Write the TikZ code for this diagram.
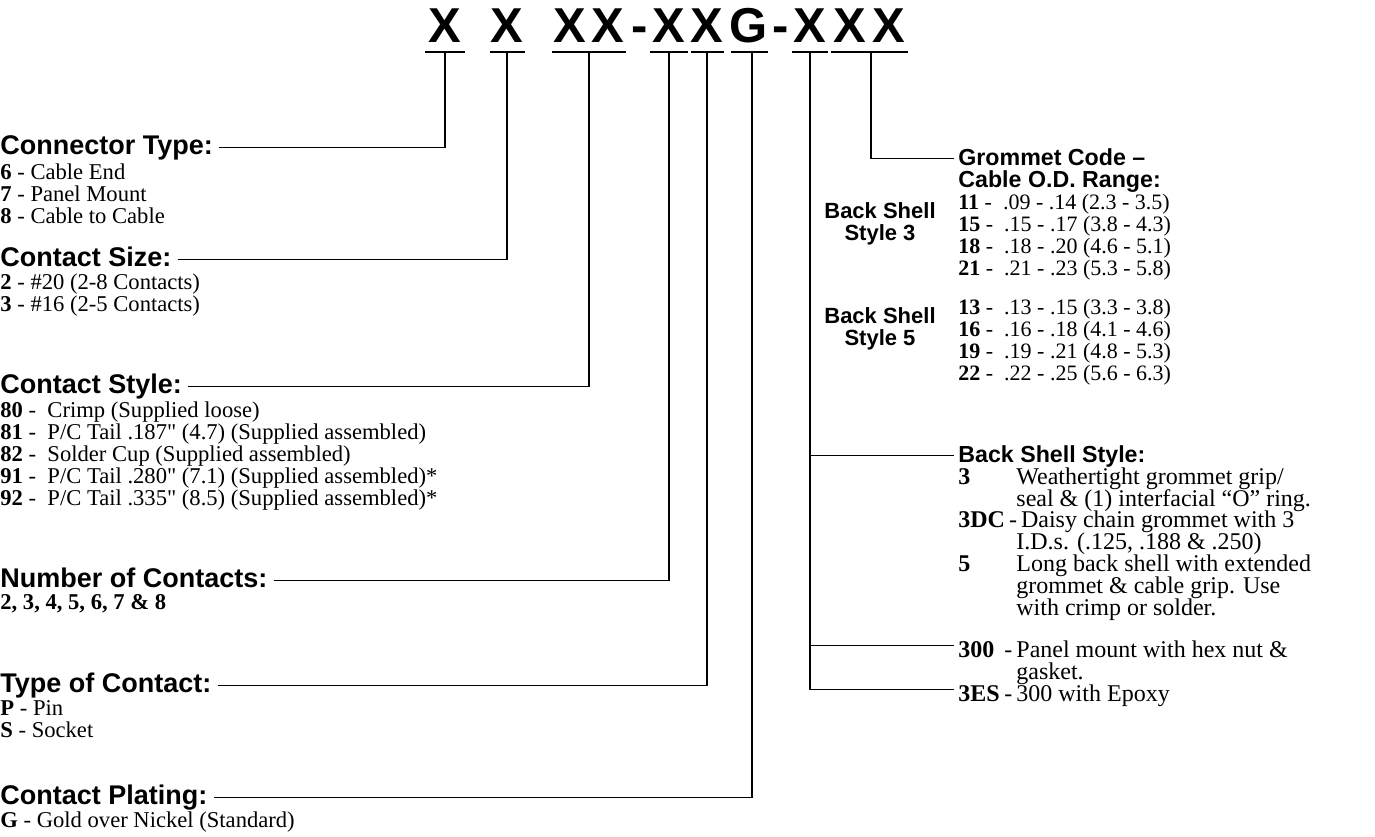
\documentclass[tikz,border=0pt]{standalone}
\usepackage{fontspec}
\setmainfont{Liberation Serif}
\setsansfont{Liberation Sans}
\usetikzlibrary{positioning}

\tikzset{
  codeletter/.style={font=\fontsize{24.5}{25}\selectfont\sffamily\bfseries, inner sep=0pt, anchor=base},
  heading/.style={font=\fontsize{13.5}{14}\selectfont\sffamily\bfseries, inner sep=0pt, anchor=base west, text height=9pt, text depth=2.5pt},
  rheading/.style={heading, font=\fontsize{11.6}{12}\selectfont\sffamily\bfseries},
  bslabel/.style={font=\fontsize{11}{11}\selectfont\sffamily\bfseries, inner sep=0pt, align=center},
  entry/.style={font=\fontsize{11.3}{11}\selectfont, inner sep=0pt, anchor=base west},
  gentry/.style={entry, font=\fontsize{11}{11}\selectfont},
  bentry/.style={entry, font=\fontsize{12}{11}\selectfont},
  leader/.style={line width=0.65pt},
  underline/.style={line width=1pt},
}

\begin{document}
\begin{tikzpicture}[x=0.5pt,y=-0.5pt]
    \useasboundingbox (0,0) rectangle (1375,836);

    % Part number
    \node[codeletter] (p1) at (445,42) {X};
    \node[codeletter] (p2) at (507,42) {X};
    \node[codeletter] (p3) at (570,42) {X};
    \node[codeletter] (p4) at (608,42) {X};
    \node[codeletter] (dash1) at (640,42) {-};
    \node[codeletter] (p5) at (669,42) {X};
    \node[codeletter] (p6) at (707,42) {X};
    \node[codeletter] (p7) at (749,42) {G};
    \node[codeletter] (dash2) at (781,42) {-};
    \node[codeletter] (p8) at (810,42) {X};
    \node[codeletter] (p9) at (850,42) {X};
    \node[codeletter] (p10) at (889,42) {X};

    % Underlines
    \draw[underline] (425,52) -- (465,52);
    \draw[underline] (490,52) -- (525,52);
    \draw[underline] (552,52) -- (626,52);
    \draw[underline] (650,52) -- (688,52);
    \draw[underline] (691,52) -- (724,52);
    \draw[underline] (731,52) -- (768,52);
    \draw[underline] (792,52) -- (828,52);
    \draw[underline] (831,52) -- (908,52);

    % Tap points
    \coordinate (tType) at (445,52);
    \coordinate (tSize) at (507,52);
    \coordinate (tStyle) at (589,52);
    \coordinate (tNum) at (669,52);
    \coordinate (tKind) at (707,52);
    \coordinate (tPlate) at (752,52);
    \coordinate (tShell) at (810,52);
    \coordinate (tGrom) at (871,52);

    % Connector type
    \node[heading] (hType) at (0,154) {Connector Type:};
    \node[entry] (type6) at (0,179) {\textbf{6} - Cable End};
    \node[entry] (type7) at (0,201) {\textbf{7} - Panel Mount};
    \node[entry] (type8) at (0,223) {\textbf{8} - Cable to Cable};

    % Contact size
    \node[heading] (hSize) at (0,266) {Contact Size:};
    \node[entry] (size2) at (0,289) {\textbf{2} - \#20 (2-8 Contacts)};
    \node[entry] (size3) at (0,311) {\textbf{3} - \#16 (2-5 Contacts)};

    % Contact style
    \node[heading] (hStyle) at (0,393) {Contact Style:};
    \node[entry] (style80) at (0,417) {\textbf{80} - \ Crimp (Supplied loose)};
    \node[entry] (style81) at (0,439) {\textbf{81} - \ P/C Tail .187\textquotedbl{} (4.7) (Supplied assembled)};
    \node[entry] (style82) at (0,461) {\textbf{82} - \ Solder Cup (Supplied assembled)};
    \node[entry] (style91) at (0,483) {\textbf{91} - \ P/C Tail .280\textquotedbl{} (7.1) (Supplied assembled)*};
    \node[entry] (style92) at (0,505) {\textbf{92} - \ P/C Tail .335\textquotedbl{} (8.5) (Supplied assembled)*};

    % Number of contacts
    \node[heading] (hNum) at (0,587) {Number of Contacts:};
    \node[entry] (numlist) at (0,609) {\textbf{2, 3, 4, 5, 6, 7 \& 8}};

    % Type of contact
    \node[heading] (hKind) at (0,692) {Type of Contact:};
    \node[entry] (kindP) at (0,715) {\textbf{P} - Pin};
    \node[entry] (kindS) at (0,737) {\textbf{S} - Socket};

    % Contact plating
    \node[heading] (hPlate) at (0,804) {Contact Plating:};
    \node[entry] (plateG) at (0,827) {\textbf{G} - Gold over Nickel (Standard)};

    % Grommet code
    \node[rheading] (hGrom) at (958,165) {Grommet Code --};
    \node[rheading] (hGrom2) at (958,187) {Cable O.D. Range:};
    \node[bslabel] (bs3) at (880,224) {Back Shell\\Style 3};
    \node[gentry] (g11) at (958,209) {\textbf{11} - \ .09 - .14 (2.3 - 3.5)};
    \node[gentry] (g15) at (958,231) {\textbf{15} - \ .15 - .17 (3.8 - 4.3)};
    \node[gentry] (g18) at (958,253) {\textbf{18} - \ .18 - .20 (4.6 - 5.1)};
    \node[gentry] (g21) at (958,275) {\textbf{21} - \ .21 - .23 (5.3 - 5.8)};
    \node[bslabel] (bs5) at (880,329) {Back Shell\\Style 5};
    \node[gentry] (g13) at (958,314) {\textbf{13} - \ .13 - .15 (3.3 - 3.8)};
    \node[gentry] (g16) at (958,336) {\textbf{16} - \ .16 - .18 (4.1 - 4.6)};
    \node[gentry] (g19) at (958,358) {\textbf{19} - \ .19 - .21 (4.8 - 5.3)};
    \node[gentry] (g22) at (958,380) {\textbf{22} - \ .22 - .25 (5.6 - 6.3)};

    % Back shell style
    \node[rheading] (hShell) at (958,462) {Back Shell Style:};
    \node[bentry] (k3) at (958,484) {\textbf{3}};
    \node[bentry] (d3a) at (1016,484) {Weathertight grommet grip/};
    \node[bentry] (d3b) at (1016,506) {seal \& (1) interfacial ``O'' ring.};
    \node[bentry] (k3dc) at (958,527) {\textbf{3DC}\,-\,Daisy chain grommet with 3};
    \node[bentry] (d3dcb) at (1016,549) {I.D.s. (.125, .188 \& .250)};
    \node[bentry] (k5) at (958,571) {\textbf{5}};
    \node[bentry] (d5a) at (1016,571) {Long back shell with extended};
    \node[bentry] (d5b) at (1016,593) {grommet \& cable grip. Use};
    \node[bentry] (d5c) at (1016,615) {with crimp or solder.};
    \node[bentry] (k300) at (958,657) {\textbf{300}};
    \node[bentry] (m300) at (1004,657) {-};
    \node[bentry] (d300a) at (1016,657) {Panel mount with hex nut \&};
    \node[bentry] (d300b) at (1016,679) {gasket.};
    \node[bentry] (k3es) at (958,701) {\textbf{3ES}};
    \node[bentry] (m3es) at (1004,701) {-};
    \node[bentry] (d3es) at (1016,701) {300 with Epoxy};

    % Leaders, left side
    \draw[leader] (tType) |- ([xshift=3pt]hType.east);
    \draw[leader] (tSize) |- ([xshift=3pt]hSize.east);
    \draw[leader] (tStyle) |- ([xshift=3pt]hStyle.east);
    \draw[leader] (tNum) |- ([xshift=3pt]hNum.east);
    \draw[leader] (tKind) |- ([xshift=3pt]hKind.east);
    \draw[leader] (tPlate) |- ([xshift=3pt]hPlate.east);

    % Leaders, right side
    \draw[leader] (tGrom) |- ([xshift=-2pt]hGrom.west);
    \draw[leader] (tShell) |- ([xshift=-2pt]hShell.west);
    \draw[leader] (tShell) |- ([xshift=-2pt,yshift=2pt]k300.west);
    \draw[leader] (tShell) |- ([xshift=-2pt,yshift=2pt]k3es.west);
\end{tikzpicture}
\end{document}
